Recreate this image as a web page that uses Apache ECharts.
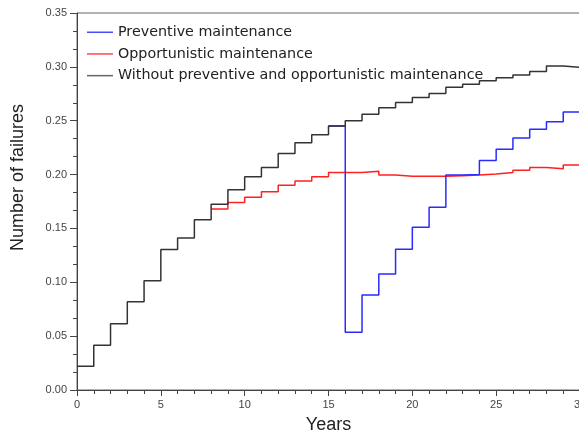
<!DOCTYPE html>
<html>
<head>
<meta charset="utf-8">
<script src="https://cdn.jsdelivr.net/npm/echarts@6/dist/echarts.min.js"></script>
<style>
html,body{margin:0;padding:0;background:#fff;}
#chart{width:579px;height:434px;}
</style>
</head>
<body>
<div id="chart"></div>
<script>
// Step values: value[i] holds on the interval [startYear + i, startYear + i + 1]
const withoutStart = 0;
const withoutValues = [0.022, 0.0415, 0.0615, 0.082, 0.1015, 0.1305, 0.141, 0.158, 0.1725, 0.186,
  0.198, 0.2065, 0.2195, 0.2295, 0.237, 0.245, 0.250, 0.256, 0.262, 0.2668,
  0.2715, 0.2752, 0.281, 0.2838, 0.2872, 0.290, 0.2925, 0.2956, 0.3008, 0.2996];
const opportunisticStart = 8;
const opportunisticValues = [0.168, 0.174, 0.179, 0.184, 0.190, 0.194, 0.198, 0.202, 0.202, 0.203,
  0.1995, 0.1985, 0.1985, 0.1985, 0.199, 0.1995, 0.2005, 0.202, 0.204, 0.2065, 0.2055, 0.209];
const preventiveStart = 15;
const preventiveValues = [0.245, 0.0535, 0.0882, 0.1077, 0.1306, 0.151, 0.1696, 0.1995, 0.200,
  0.213, 0.2235, 0.234, 0.242, 0.249, 0.258];
const endYear = 30;
const seriesNames = ['Preventive maintenance', 'Opportunistic maintenance', 'Without preventive and opportunistic maintenance'];
const yTicks = [0, 0.05, 0.10, 0.15, 0.20, 0.25, 0.30, 0.35];
const xTicks = [0, 5, 10, 15, 20, 25, 30];

function toSteps(start, values) {
  const pts = values.map((v, i) => [start + i, v]);
  pts.push([endYear, values[values.length - 1]]);
  return pts;
}

const chart = echarts.init(document.getElementById('chart'), null, {renderer: 'canvas'});
const axisColor = '#444';
const lineIcon = 'path://M0,0 H26 V1.5 H0 Z';
chart.setOption({
  animation: false,
  backgroundColor: '#fff',
  grid: {left: 77, top: 13, right: -1, bottom: 44, show: true, borderColor: '#666', borderWidth: 1,
    backgroundColor: 'transparent', containLabel: false, outerBoundsMode: 'none'},
  legend: {
    orient: 'vertical', left: 82, top: 19,
    itemWidth: 26, itemHeight: 1.5, itemGap: 5.2,
    textStyle: {fontFamily: 'DejaVu Sans', fontSize: 14.3, color: '#222', lineHeight: 16.5},
    data: seriesNames.map(n => ({name: n, icon: lineIcon}))
  },
  xAxis: {
    type: 'value', min: xTicks[0], max: xTicks[xTicks.length - 1], interval: 5,
    name: 'Years', nameLocation: 'middle', nameGap: 26,
    nameTextStyle: {fontFamily: 'Liberation Sans', fontSize: 18, color: '#222'},
    axisLine: {lineStyle: {color: axisColor, width: 1}},
    axisTick: {show: true, length: 6, lineStyle: {color: axisColor}},
    minorTick: {show: true, splitNumber: 5, length: 4, lineStyle: {color: axisColor}},
    axisLabel: {fontFamily: 'Liberation Sans', fontSize: 11, color: '#444', margin: 9},
    splitLine: {show: false}
  },
  yAxis: {
    type: 'value', min: yTicks[0], max: yTicks[yTicks.length - 1], interval: 0.05,
    name: 'Number of failures', nameLocation: 'middle', nameGap: 50,
    nameTextStyle: {fontFamily: 'Liberation Sans', fontSize: 18, color: '#222', padding: [0, 0, 0, 48]},
    axisLine: {show: true, lineStyle: {color: axisColor, width: 1}},
    axisTick: {show: true, length: 7, lineStyle: {color: axisColor}},
    minorTick: {show: true, splitNumber: 3, length: 4, lineStyle: {color: axisColor}},
    axisLabel: {fontFamily: 'Liberation Sans', fontSize: 11, color: '#444', margin: 10,
      formatter: v => v.toFixed(2)},
    splitLine: {show: false}
  },
  series: [
    {name: seriesNames[0], type: 'line', step: 'end', symbol: 'none', z: 3,
     data: toSteps(preventiveStart, preventiveValues),
     lineStyle: {color: '#2a2aff', width: 1.5}, itemStyle: {color: '#4a4aff'}},
    {name: seriesNames[1], type: 'line', step: 'end', symbol: 'none', z: 2,
     data: toSteps(opportunisticStart, opportunisticValues),
     lineStyle: {color: '#ff2020', width: 1.5}, itemStyle: {color: '#ff4a4a'}},
    {name: seriesNames[2], type: 'line', step: 'end', symbol: 'none', z: 4,
     data: toSteps(withoutStart, withoutValues),
     lineStyle: {color: '#333', width: 1.5}, itemStyle: {color: '#666'}}
  ]
});
</script>
</body>
</html>
